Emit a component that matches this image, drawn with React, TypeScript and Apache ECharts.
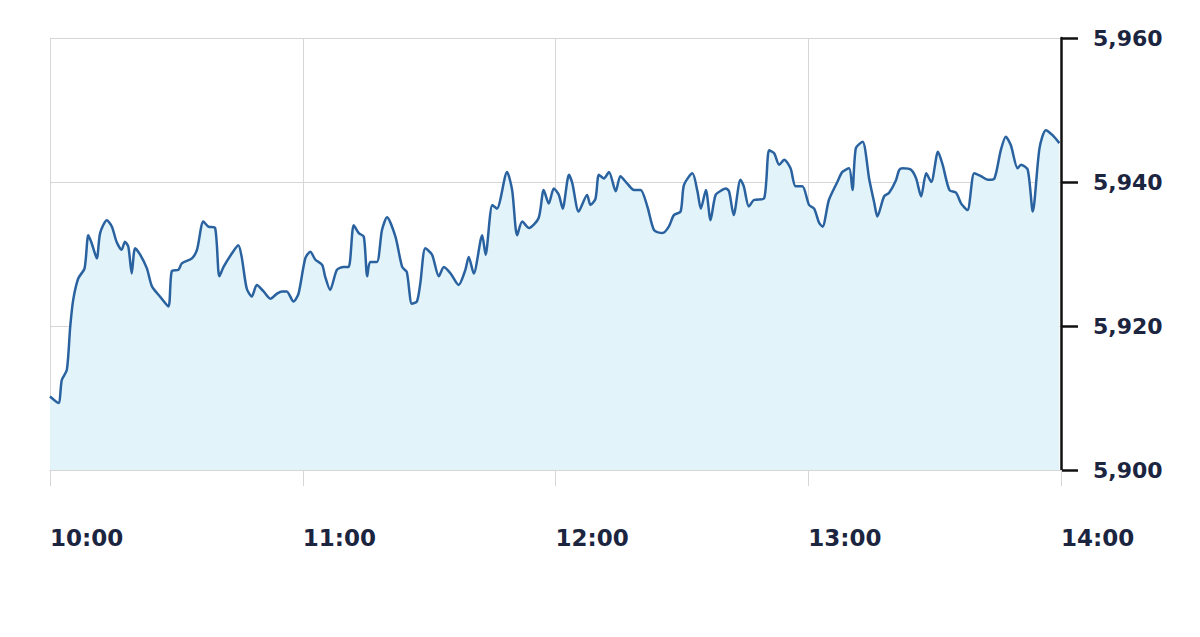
import React, { useEffect, useRef } from "react";
import * as echarts from "echarts";

// minutes after 10:00
const minutes: number[] = [
  0, 2.0, 2.8, 4.0, 4.8, 5.5, 6.7, 8.2, 9.1, 9.9, 11.1, 11.9, 13.5, 14.7, 15.8, 17.0, 17.8, 18.6, 19.4, 20.2,
  21.4, 23.0, 24.2, 26.1, 28.1, 28.9, 30.5, 31.3, 33.7, 34.9, 36.4, 37.6, 39.2, 40.2, 41.2, 43.2, 44.7, 45.5,
  46.7, 47.9, 49.1, 50.7, 52.3, 53.9, 55.1, 56.2, 57.8, 59.0, 60.6, 61.8, 63.0, 64.6, 65.3, 66.5, 68.1, 69.7,
  70.9, 72.1, 73.3, 74.5, 75.3, 76.0, 77.6, 78.8, 80.0, 82.0, 83.6, 84.7, 85.9, 87.1, 87.9, 89.1, 90.7, 92.3,
  93.5, 95.1, 97.0, 98.6, 99.4, 100.6, 102.6, 103.4, 105.0, 106.1, 108.5, 109.7, 110.9, 112.1, 113.7, 116.0,
  117.2, 118.4, 119.6, 120.8, 121.7, 123.2, 124.0, 125.5, 127.5, 128.3, 129.5, 130.3, 131.5, 132.7, 134.3,
  135.4, 137.0, 138.6, 140.2, 141.8, 143.4, 145.4, 146.9, 148.1, 149.7, 150.5, 152.5, 153.7, 154.5, 155.7,
  156.8, 158.0, 159.6, 160.4, 161.2, 162.3, 163.9, 164.7, 165.9, 167.1, 169.5, 170.7, 171.9, 173.1, 174.3,
  175.8, 177.0, 178.6, 180.2, 181.4, 182.6, 183.4, 184.9, 186.9, 188.1, 189.7, 190.5, 191.3, 192.9, 194.5,
  195.7, 196.4, 198.0, 199.2, 200.8, 201.6, 202.5, 204.4, 205.6, 206.8, 208.0, 209.2, 210.8, 211.9, 213.5,
  215.1, 216.3, 217.8, 219.4, 221.0, 222.6, 224.2, 225.7, 226.9, 228.1, 229.7, 230.5, 232.1, 233.3, 234.9,
  236.4, 238.0, 239.6,
];

const prices: number[] = [
  5910.2, 5909.3, 5912.5, 5913.9, 5919.9, 5923.6, 5926.6, 5928.0, 5932.6, 5931.5, 5929.4, 5932.9, 5934.7, 5933.8, 5931.7, 5930.6, 5931.7, 5931.0, 5927.3, 5930.8,
  5929.9, 5928.0, 5925.5, 5924.1, 5922.7, 5927.6, 5927.8, 5928.7, 5929.4, 5930.6, 5934.5, 5933.8, 5933.6, 5926.9, 5928.2, 5930.1, 5931.2, 5929.6,
  5925.2, 5924.1, 5925.7, 5924.8, 5923.8, 5924.5, 5924.8, 5924.8, 5923.4, 5924.5, 5929.4, 5930.3, 5929.2, 5928.5, 5926.9, 5925.0, 5927.8, 5928.2,
  5928.2, 5934.0, 5932.9, 5932.4, 5926.9, 5928.9, 5928.9, 5933.3, 5935.1, 5932.4, 5928.2, 5927.5, 5923.1, 5923.4, 5925.9, 5930.8, 5929.9, 5926.9,
  5928.2, 5927.3, 5925.7, 5927.8, 5929.6, 5927.3, 5932.6, 5929.9, 5936.8, 5936.3, 5941.4, 5938.9, 5932.6, 5934.5, 5933.6, 5935.0,
  5938.9, 5937.0, 5939.1, 5938.2, 5936.3, 5941.0, 5939.8, 5935.9, 5938.2, 5936.8, 5937.7, 5941.0, 5940.5, 5941.4, 5938.7,
  5940.8, 5939.8, 5938.9, 5938.9, 5936.6, 5933.3, 5932.9, 5933.8, 5935.4, 5935.9, 5939.6, 5941.2, 5938.7, 5936.3, 5938.9,
  5934.7, 5938.2, 5938.9, 5939.1, 5938.7, 5935.4, 5940.3, 5939.4, 5936.6, 5937.5, 5937.7, 5944.4, 5944.0, 5942.4, 5943.1,
  5941.9, 5939.4, 5939.4, 5936.8, 5936.3, 5934.3, 5933.8, 5937.5, 5940.0, 5941.4, 5941.9, 5938.9, 5944.7, 5945.6, 5940.3,
  5937.0, 5935.2, 5938.0, 5938.5, 5940.2, 5941.7, 5941.9, 5941.7, 5940.5, 5938.0, 5941.2, 5940.0, 5944.2, 5942.4, 5938.9,
  5938.5, 5937.0, 5936.1, 5941.2, 5940.8, 5940.3, 5940.5, 5944.4, 5946.3, 5945.1, 5941.9, 5942.4, 5941.7, 5935.9, 5944.7,
  5947.2, 5946.5, 5945.4,
];

const yTicks = { min: 5900, max: 5960, step: 20 };
const xTicks = { min: 0, max: 240, step: 60, startHour: 10 };

export default function App() {
  const ref = useRef<HTMLDivElement>(null);
  useEffect(() => {
    document.body.style.margin = "0";
    if (!ref.current) return;
    const chart = echarts.init(ref.current, null, { renderer: "svg" });
    const labelFont = {
      fontFamily: "DejaVu Sans",
      fontWeight: "bold" as const,
      color: "#1c2540",
    };
    chart.setOption({
      animation: false,
      backgroundColor: "#ffffff",
      grid: { left: 50, right: 139, top: 38, bottom: 167 },
      xAxis: {
        type: "value",
        min: xTicks.min,
        max: xTicks.max,
        interval: xTicks.step,
        axisLine: { show: true, onZero: false, lineStyle: { color: "#d6d6d6", width: 1 } },
        axisTick: { show: true, length: 16, lineStyle: { color: "#d6d6d6", width: 1 } },
        splitLine: { show: true, lineStyle: { color: "#d6d6d6", width: 1 } },
        axisLabel: {
          ...labelFont,
          fontSize: 23,
          align: "left",
          margin: 56,
          showMinLabel: true,
          showMaxLabel: true,
          formatter: (v: number) => `${xTicks.startHour + Math.round(v / 60)}:00`,
        },
      },
      yAxis: {
        type: "value",
        position: "right",
        min: yTicks.min,
        max: yTicks.max,
        interval: yTicks.step,
        axisLine: { show: true, onZero: false, lineStyle: { color: "#111111", width: 2.5 } },
        axisTick: { show: true, length: 17, lineStyle: { color: "#111111", width: 2.5 } },
        splitLine: { show: true, lineStyle: { color: "#d6d6d6", width: 1 } },
        axisLabel: {
          ...labelFont,
          fontSize: 22,
          margin: 32,
          padding: [6, 0, 0, 0],
          formatter: (v: number) => v.toLocaleString("en-US"),
        },
      },
      series: [
        {
          type: "line",
          data: minutes.map((m, i) => [m, prices[i]]),
          showSymbol: false,
          smooth: 0.25,
          lineStyle: { color: "#2a62a0", width: 2.5 },
          areaStyle: { color: "#e2f4fa", opacity: 1, origin: "start" },
        },
      ],
    });
    return () => chart.dispose();
  }, []);
  return <div ref={ref} style={{ width: 1200, height: 637 }} />;
}
